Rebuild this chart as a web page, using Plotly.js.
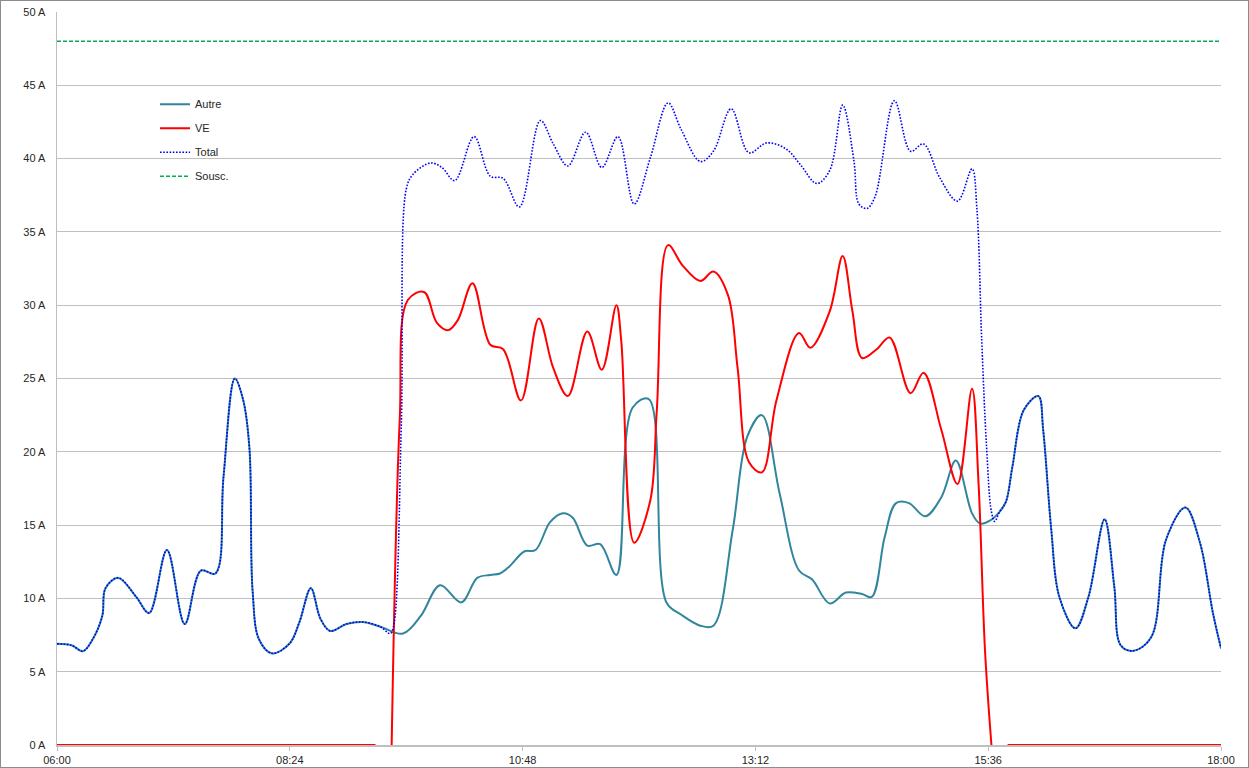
<!DOCTYPE html>
<html>
<head>
<meta charset="utf-8">
<script src="https://cdn.plot.ly/plotly-3.0.1.min.js"></script>
<style>
html,body{margin:0;padding:0;background:#fff;}
#wrap{position:relative;width:1249px;height:768px;}
#chart{width:1249px;height:768px;}
#frame{position:absolute;left:0;top:0;width:1247px;height:766px;border:1px solid #8c8c8c;pointer-events:none;}
</style>
</head>
<body>
<div id="wrap"><div id="chart"></div><div id="frame"></div></div>
<script>
// ---- data ----
const autreTimes = ['06:00','06:09','06:16','06:22','06:28','06:30','06:38','06:49','06:57','07:08','07:19','07:29','07:38','07:43','07:50','07:55','07:59','08:01','08:05','08:13','08:24','08:30','08:37','08:43','08:49','08:59','09:09','09:20','09:34','09:45','09:57','10:10','10:20','10:28','10:34','10:40','10:49','10:56','11:05','11:13','11:19','11:28','11:36','11:46','11:56','12:06','12:17','12:26','12:38','12:46','12:58','13:07','13:16','13:27','13:39','13:47','13:58','14:08','14:18','14:24','14:32','14:39','14:47','14:57','15:07','15:16','15:26','15:31','15:37','15:43','15:47','15:51','15:58','16:07','16:10','16:15','16:20','16:30','16:38','16:48','16:54','16:58','17:06','17:17','17:26','17:38','17:47','17:55','18:00'];
const autre = [6.9,6.8,6.4,7.2,8.8,10.7,11.4,10.1,9.0,13.3,8.25,11.9,11.7,18.3,25.0,23.6,20.3,10.5,7.2,6.25,6.94,8.4,10.7,8.6,7.78,8.25,8.39,8.07,7.6,8.8,10.9,9.73,11.4,11.6,11.7,12.2,13.2,13.3,15.2,15.8,15.5,13.6,13.7,11.6,23.0,23.6,9.72,8.9,8.14,8.14,14.7,21.05,22.5,17.15,11.9,11.3,9.65,10.4,10.3,10.1,14.2,16.5,16.5,15.6,16.9,19.4,15.8,15.1,15.3,15.9,16.6,19.0,22.85,23.8,21.5,14.7,10.1,7.96,10.1,15.4,10.8,6.8,6.43,7.39,14.0,16.2,13.8,9.0,6.6];

const veTimes = ['06:00','09:17','09:22','09:27','09:32','09:37','09:47','09:55','10:02','10:08','10:17','10:28','10:36','10:47','10:58','11:07','11:16','11:28','11:37','11:46','11:49','11:57','12:07','12:11','12:18','12:27','12:38','12:46','12:55','13:01','13:08','13:16','13:25','13:39','13:46','13:58','14:06','14:12','14:18','14:27','14:35','14:48','14:56','15:07','15:17','15:26','15:30','15:34','15:38','15:43','15:48','18:00'];
const ve = [0,0,null,0,22.2,30.35,30.9,28.8,28.3,29.0,31.5,27.3,27.0,23.5,29.1,25.7,23.8,28.2,25.6,30.0,27.6,13.8,16.7,22.8,34.1,32.7,31.65,32.3,30.7,25.7,19.3,18.6,23.5,28.1,27.1,29.6,33.35,29.6,26.4,27.0,27.8,24.0,25.4,21.5,17.8,24.3,17.9,6.5,0,null,0,0];

const totalTimes = ['06:00','06:09','06:16','06:22','06:28','06:30','06:38','06:49','06:57','07:08','07:19','07:29','07:38','07:43','07:50','07:55','07:59','08:01','08:05','08:13','08:24','08:30','08:37','08:43','08:49','08:59','09:09','09:20','09:26','09:28','09:33','09:36','09:40','09:51','09:58','10:06','10:18','10:28','10:36','10:46','10:59','11:07','11:16','11:27','11:37','11:47','11:57','12:07','12:18','12:26','12:38','12:46','12:57','13:08','13:19','13:31','13:40','13:50','13:58','14:06','14:13','14:16','14:21','14:26','14:38','14:48','14:56','15:06','15:17','15:26','15:29','15:32','15:35','15:38','15:40','15:43','15:47','15:51','15:58','16:07','16:10','16:15','16:20','16:30','16:38','16:48','16:54','16:58','17:06','17:17','17:26','17:38','17:47','17:55','18:00'];
const total = [6.9,6.8,6.4,7.2,8.8,10.7,11.4,10.1,9.0,13.3,8.25,11.9,11.7,18.3,25.0,23.6,20.3,10.5,7.2,6.25,6.94,8.4,10.7,8.6,7.78,8.25,8.39,8.07,7.6,8.0,22.0,37.9,38.9,39.7,39.4,38.5,41.5,38.8,38.65,36.7,42.6,41.0,39.5,41.8,39.4,41.5,36.9,40.05,43.8,42.0,39.8,40.5,43.4,40.4,41.07,40.66,39.56,38.3,39.2,43.65,39.8,36.9,36.6,37.4,43.95,40.5,41.0,38.7,37.1,39.3,36.6,27.6,20.3,15.9,15.25,15.9,16.6,19.0,22.85,23.8,21.5,14.7,10.1,7.96,10.1,15.4,10.8,6.8,6.43,7.39,14.0,16.2,13.8,9.0,6.6];

const souscTimes = ['06:00','18:00'];
const sousc = [48,48];

const seriesNames = ['Autre','VE','Total','Sousc.'];
const xTickLabels = ['06:00','08:24','10:48','13:12','15:36','18:00'];

// ---- build ----
const DAY = '2020-01-01 ';
const d = a => a.map(t => DAY + t);

const traces = [
  {x:d(autreTimes), y:autre, name:seriesNames[0], mode:'lines', legendgroup:'a',
   line:{color:'#31859C', width:2, shape:'spline', smoothing:1}},
  {x:d(veTimes), y:ve, name:seriesNames[1], mode:'lines', legendgroup:'b', connectgaps:false,
   line:{color:'#FF0000', width:2, shape:'spline', smoothing:1}},
  {x:d(totalTimes), y:total, name:seriesNames[2], mode:'lines', legendgroup:'c',
   line:{color:'#0000FF', width:1.6, shape:'spline', smoothing:1, dash:'1.6px,1.6px'}},
  {x:d(souscTimes), y:sousc, name:seriesNames[3], mode:'lines', legendgroup:'d',
   line:{color:'#00B050', width:1.6, dash:'4px,2px'}}
];

const layout = {
  width:1249, height:768,
  margin:{l:57, r:28, t:12, b:23},
  paper_bgcolor:'#ffffff', plot_bgcolor:'#ffffff',
  font:{family:'Liberation Sans, Arial, sans-serif', size:11, color:'#404040'},
  showlegend:true,
  legend:{x:0.0842, y:0.894, xanchor:'left', yanchor:'top', bgcolor:'rgba(0,0,0,0)',
          font:{size:11, color:'#262626'}, traceorder:'grouped', tracegroupgap:5, itemwidth:30},
  xaxis:{type:'date', range:[DAY+'06:00', DAY+'18:00'], tick0:DAY+'06:00', dtick:144*60*1000,
         tickformat:'%H:%M', ticks:'outside', ticklen:4, tickcolor:'#BFBFBF',
         showgrid:false, showline:true, linecolor:'#BFBFBF', linewidth:1.5, zeroline:false,
         tickfont:{size:11, color:'#262626'}},
  yaxis:{range:[0,50], dtick:5, tick0:0, ticksuffix:' A', showgrid:true, gridcolor:'#BFBFBF', gridwidth:1,
         showline:true, linecolor:'#BFBFBF', linewidth:1.5, zeroline:false, ticks:'',
         ticklabelstandoff:8, tickfont:{size:11, color:'#262626'}},
  hovermode:false
};

Plotly.newPlot('chart', traces, layout, {displayModeBar:false, staticPlot:true});
</script>
</body>
</html>
